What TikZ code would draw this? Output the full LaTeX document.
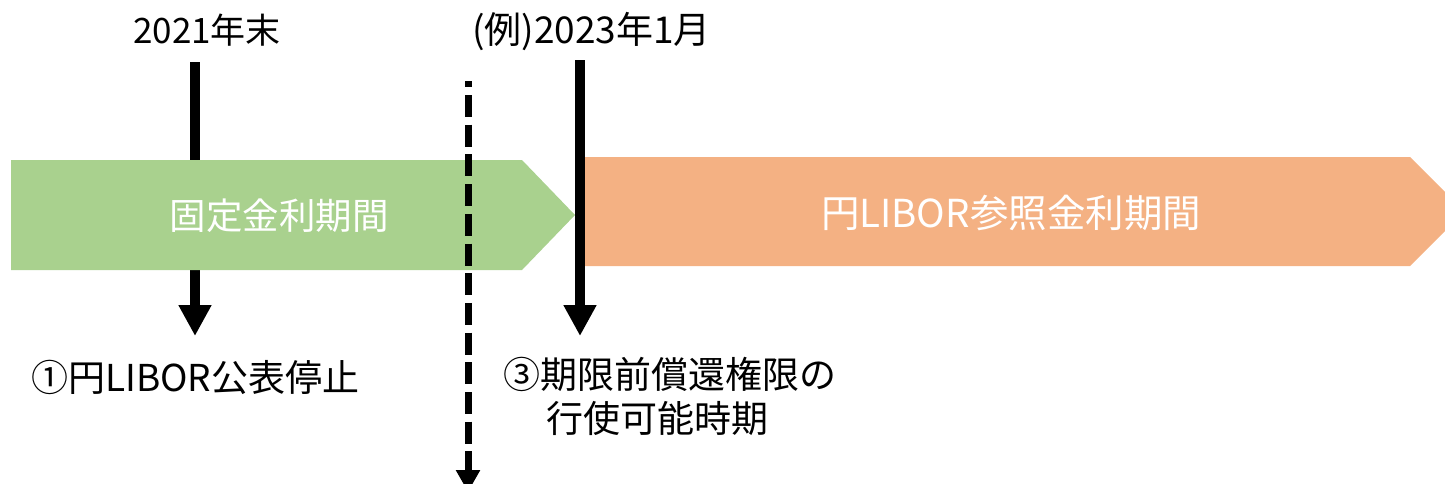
\documentclass[tikz,border=0pt]{standalone}
\usepackage{fontspec}
\newfontfamily\jp{Noto Sans CJK JP}
\usetikzlibrary{arrows.meta}
\definecolor{fixgreen}{HTML}{A9D18E}
\definecolor{liborange}{HTML}{F4B183}
\tikzset{
  lbl/.style={font=\jp\fontsize{37}{44}\selectfont, inner sep=0pt, text=black},
  toplbl/.style={font=\jp\fontsize{35}{40}\selectfont, inner sep=0pt, text=black},
  bandtxt/.style={font=\jp\fontsize{36.5}{44}\selectfont, inner sep=0pt, text=white},
  bigarrow/.style={line width=10pt, -{Triangle[length=31pt,width=31pt]}},
  dasharrow/.style={line width=7pt, dash pattern=on 22pt off 7.7pt, dash phase=15.7pt, -{Triangle[length=22pt,width=23pt]}}
}
\begin{document}
\begin{tikzpicture}[x=1pt,y=-1pt]
\useasboundingbox (0,0) rectangle (1445,483);
\coordinate (a1s) at (195,62);
\coordinate (a1e) at (195,336);
\coordinate (a2s) at (580,60);
\coordinate (a2e) at (580,336);
\coordinate (d1s) at (468,81);
\coordinate (d1e) at (468,492);
% left arrow lies behind the green band
\draw[bigarrow] (a1s) -- (a1e);
% chevrons
\fill[fixgreen] (11,160) -- (522,160) -- (575,215) -- (522,270) -- (11,270) -- cycle;
\fill[liborange] (585,157) -- (1410,157) -- (1464.5,211.5) -- (1410,266) -- (585,266) -- cycle;
\node[bandtxt] (fix) at (279,216) {固定金利期間};
\node[bandtxt, font=\jp\fontsize{38.5}{44}\selectfont] (lib) at (1011,213) {円LIBOR参照金利期間};
% top labels
\node[toplbl, anchor=base west] (t1) at (133,43) {2021年末};
\node[toplbl, anchor=base west, font=\jp\fontsize{37}{40}\selectfont] (t2) at (472,43) {(例)2023年1月};
% arrows
\draw[dasharrow] (d1s) -- (d1e);
\draw[bigarrow] (a2s) -- (a2e);
% bottom labels
\node[lbl, anchor=base west] (b1) at (31,391) {①円LIBOR公表停止};
\node[lbl, anchor=base west] (b3) at (503,388) {③期限前償還権限の};
\node[lbl, anchor=base west] (b3b) at (546,432) {行使可能時期};
\end{tikzpicture}
\end{document}
